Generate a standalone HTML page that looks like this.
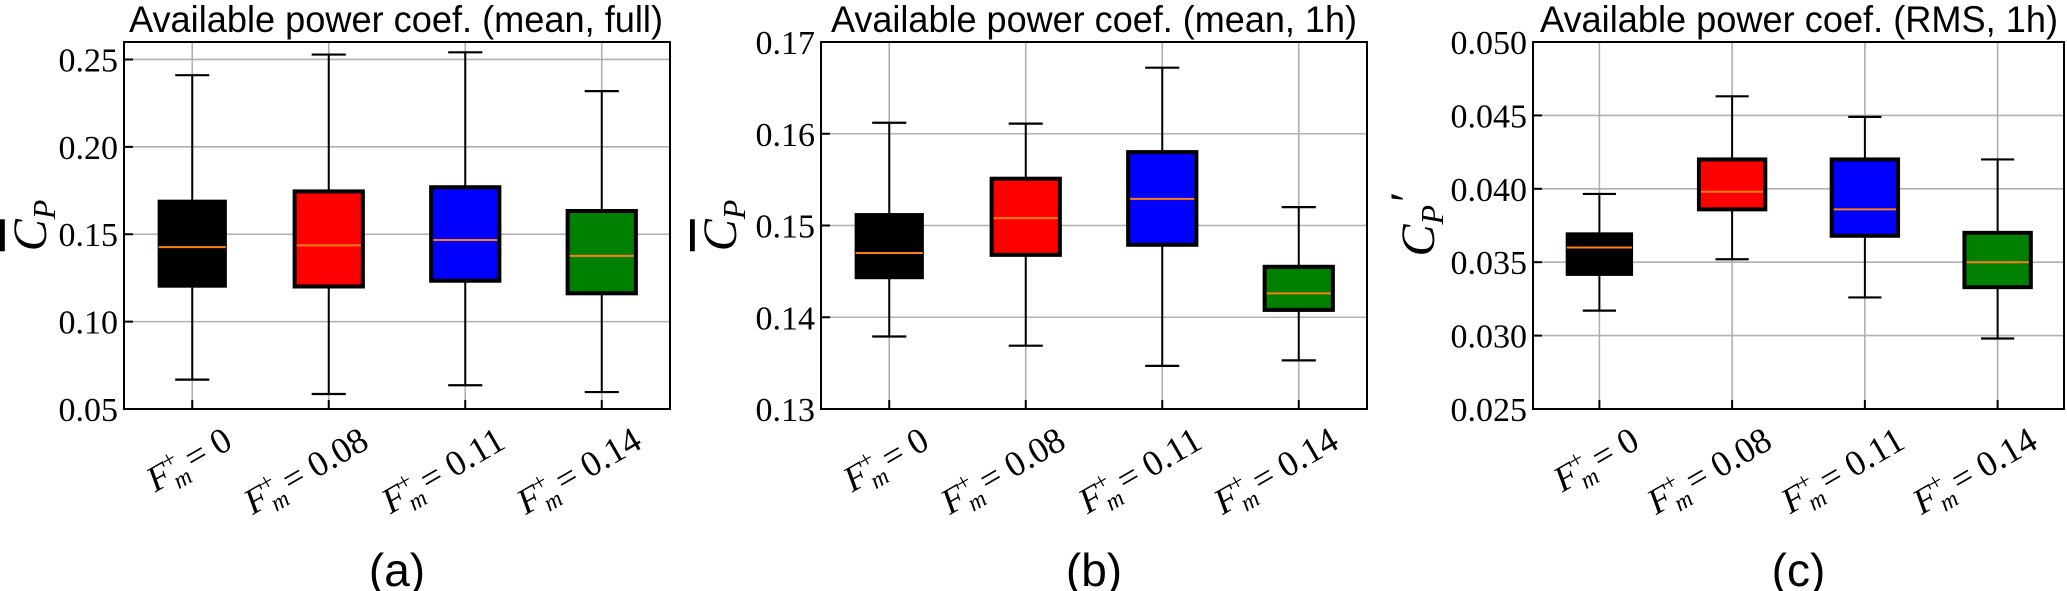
<!DOCTYPE html>
<html><head><meta charset="utf-8">
<style>
html,body{margin:0;padding:0;background:#fff;}
svg{display:block;}
.tick{font-family:"Liberation Serif",serif;font-size:34px;fill:#000;}
.title{font-family:"Liberation Sans",sans-serif;font-size:37px;fill:#000;}
.xl{font-family:"Liberation Serif",serif;font-size:36px;fill:#000;}
.panel{font-family:"Liberation Sans",sans-serif;font-size:46px;fill:#000;}
.ylab{font-family:"Liberation Serif",serif;font-size:48px;font-style:italic;fill:#000;}
</style></head>
<body>
<svg id="fig" width="2067" height="591" viewBox="0 0 2067 591" xmlns="http://www.w3.org/2000/svg"></svg>
<script>
const categories = ["0", "0.08", "0.11", "0.14"];
const boxColors = ["#000000", "#ff0000", "#0000ff", "#008000"];

const lowA = [0.0668, 0.0586, 0.0636, 0.0597];
const q1A = [0.1197, 0.1201, 0.1234, 0.1162];
const medA = [0.1426, 0.1436, 0.1467, 0.1376];
const q3A = [0.1695, 0.1745, 0.1769, 0.1633];
const highA = [0.2410, 0.2528, 0.2541, 0.2319];
const ticksA = ["0.05", "0.10", "0.15", "0.20", "0.25"];

const lowB = [0.1379, 0.1369, 0.1347, 0.1353];
const q1B = [0.1442, 0.1468, 0.1479, 0.1408];
const medB = [0.1470, 0.1508, 0.1529, 0.1426];
const q3B = [0.1513, 0.1551, 0.1580, 0.1455];
const highB = [0.1612, 0.1611, 0.1672, 0.1520];
const ticksB = ["0.13", "0.14", "0.15", "0.16", "0.17"];

const lowC = [0.0317, 0.0352, 0.0326, 0.0298];
const q1C = [0.0341, 0.0386, 0.0368, 0.0333];
const medC = [0.0360, 0.0398, 0.0386, 0.0350];
const q3C = [0.0370, 0.0420, 0.0420, 0.0370];
const highC = [0.03965, 0.0463, 0.0449, 0.0420];
const ticksC = ["0.025", "0.030", "0.035", "0.040", "0.045", "0.050"];

const NS = "http://www.w3.org/2000/svg";
const fig = document.getElementById("fig");
function mk(tag, attrs, parent, txt) {
  const e = document.createElementNS(NS, tag);
  for (const k in attrs) e.setAttribute(k, attrs[k]);
  if (txt !== undefined) e.textContent = txt;
  (parent || fig).appendChild(e);
  return e;
}

function drawPanel(id, L, R, T, B, ymin, ymax, ticks, low, q1, med, q3, high, title, titleX, titleW, ylabel, ylabX, letter) {
  const g = mk("g", {});
  
  
  const n = categories.length;
  const xs = i => L + (i + 0.5) * (R - L) / n;
  const ys = v => B - (v - ymin) / (ymax - ymin) * (B - T);
  const bw = 0.5 * (R - L) / n;
  ticks.forEach(t => {
    const y = ys(parseFloat(t));
    const gl = mk("line", {x1: L, x2: R, y1: y, y2: y, stroke: "#b0b0b0", "stroke-width": 1.6}, g);
    
    
    const tl = mk("text", {x: L - 6, y: y + 12, "text-anchor": "end", class: "tick"}, g, t);
    
    
  });
  categories.forEach((c, i) => {
    const x = xs(i);
    const vl = mk("line", {x1: x, x2: x, y1: T, y2: B, stroke: "#b0b0b0", "stroke-width": 1.6}, g);
    
    
    mk("line", {x1: x, x2: x, y1: B - 9, y2: B, stroke: "#000", "stroke-width": 2}, g);
  });
  ticks.forEach(t => {
    const y = ys(parseFloat(t));
    mk("line", {x1: L, x2: L + 9, y1: y, y2: y, stroke: "#000", "stroke-width": 2}, g);
  });
  categories.forEach((c, i) => {
    const x = xs(i);
    const bg = mk("g", {}, g);
    
    
    mk("line", {x1: x, x2: x, y1: ys(high[i]), y2: ys(q3[i]), stroke: "#000", "stroke-width": 2}, bg);
    mk("line", {x1: x, x2: x, y1: ys(q1[i]), y2: ys(low[i]), stroke: "#000", "stroke-width": 2}, bg);
    mk("line", {x1: x - bw / 4, x2: x + bw / 4, y1: ys(high[i]), y2: ys(high[i]), stroke: "#000", "stroke-width": 2.2}, bg);
    mk("line", {x1: x - bw / 4, x2: x + bw / 4, y1: ys(low[i]), y2: ys(low[i]), stroke: "#000", "stroke-width": 2.2}, bg);
    const sw = i === 0 ? 1 : 4;
    mk("rect", {x: x - bw / 2, y: ys(q3[i]), width: bw, height: ys(q1[i]) - ys(q3[i]), fill: boxColors[i], stroke: "#000", "stroke-width": sw}, bg);
    mk("line", {x1: x - bw / 2 + sw / 2, x2: x + bw / 2 - sw / 2, y1: ys(med[i]), y2: ys(med[i]), stroke: "#ff7f0e", "stroke-width": 2}, bg);
    const ax = x + 42, ay = B + 38;
    const xl = mk("text", {x: ax, y: ay, "text-anchor": "end", class: "xl", transform: "rotate(-30 " + ax + " " + ay + ")"}, g);
    
    
    mk("tspan", {"font-style": "italic"}, xl, "F");
    mk("tspan", {"font-style": "italic", "font-size": "24", dy: "9"}, xl, "m");
    mk("tspan", {"font-size": "24", dx: "-18", dy: "-23"}, xl, "+");
    mk("tspan", {dy: "14"}, xl, " = " + c);
  });
  const fr = mk("rect", {x: L, y: T, width: R - L, height: B - T, fill: "none", stroke: "#000", "stroke-width": 2}, g);
  
  
  const tt = mk("text", {x: titleX, y: 32, class: "title", textLength: titleW, lengthAdjust: "spacingAndGlyphs"}, g, title);
  
  
  const yl = mk("text", {x: 0, y: 0, "text-anchor": "middle", class: "ylab", transform: "translate(" + ylabX + "," + ((T + B) / 2) + ") rotate(-90)"}, g);
  
  
  if (ylabel === "bar") {
    mk("tspan", {"text-decoration": "overline"}, yl, "C");
    mk("tspan", {"font-size": "32", dy: "9"}, yl, "P");
  } else {
    mk("tspan", {}, yl, "C");
    mk("tspan", {"font-size": "32", dy: "9"}, yl, "P");
    mk("tspan", {dy: "-20"}, yl, "\u2032");
  }
  const pl = mk("text", {x: (L + R) / 2, y: 586, "text-anchor": "middle", class: "panel"}, g, letter);
  
  
}

drawPanel("a", 124, 670, 42, 409, 0.05, 0.26, ticksA, lowA, q1A, medA, q3A, highA, "Available power coef. (mean, full)", 129, 534, "bar", 46, "(a)");
drawPanel("b", 821, 1367, 42, 409, 0.13, 0.17, ticksB, lowB, q1B, medB, q3B, highB, "Available power coef. (mean, 1h)", 831, 526, "bar", 736, "(b)");
drawPanel("c", 1533, 2064, 42, 409, 0.025, 0.050, ticksC, lowC, q1C, medC, q3C, highC, "Available power coef. (RMS, 1h)", 1540, 518, "prime", 1434, "(c)");
</script>
</body></html>
